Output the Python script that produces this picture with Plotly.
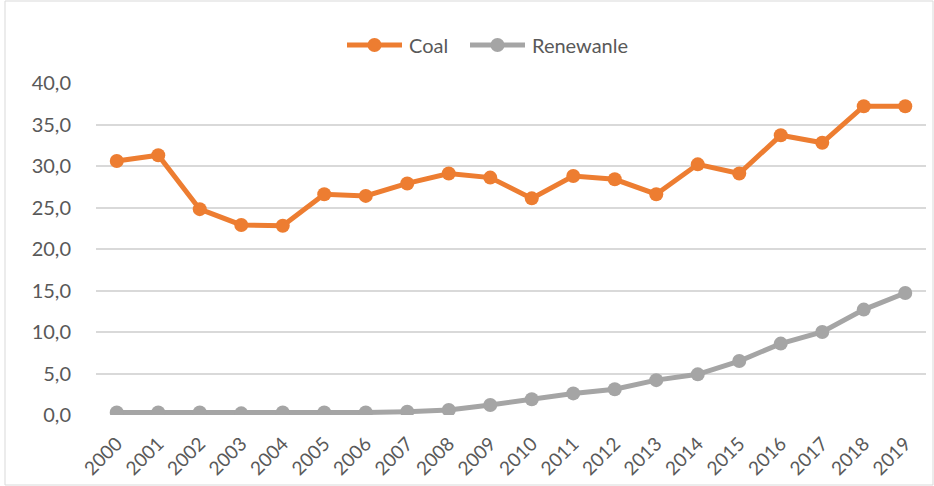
import plotly.graph_objects as go

years = [str(y) for y in range(2000, 2020)]
coal = [30.6, 31.3, 24.8, 22.9, 22.8, 26.6, 26.4, 27.9, 29.1, 28.6,
        26.1, 28.8, 28.4, 26.6, 30.2, 29.1, 33.7, 32.8, 37.2, 37.2]
renewable = [0.3, 0.3, 0.3, 0.2, 0.3, 0.3, 0.3, 0.4, 0.6, 1.2,
             1.9, 2.6, 3.1, 4.2, 4.9, 6.5, 8.6, 10.0, 12.7, 14.7]
y_ticks = [0, 5, 10, 15, 20, 25, 30, 35, 40]
series = [("Coal", coal, "#ED7D31"), ("Renewanle", renewable, "#A5A5A5")]

W, H = 934, 486
ml, mr, mt, mb = 96, 8, 83, 71
pw = W - ml - mr
ph = H - mt - mb
FONT = "Lato, 'Open Sans', sans-serif"
TXT = "#595959"


def px(x):
    return (x - ml) / pw


def py(y):
    return 1 + (mt - y) / ph


fig = go.Figure()
for name, vals, col in series:
    fig.add_trace(go.Scatter(x=years, y=vals, name=name, mode="lines+markers",
                             line=dict(color=col, width=5),
                             marker=dict(color=col, size=14), showlegend=False))

# chart border
fig.add_shape(type="rect", xref="paper", yref="paper",
              x0=px(5), x1=px(W - 1), y0=py(H - 1), y1=py(1),
              line=dict(color="#D9D9D9", width=1), layer="below")

# custom legend (Excel-style long line symbol)
leg_y = 45
leg_items = [(347, 402, 407), (470, 525, 530)]
for (name, vals, col), (lx0, lx1, tx) in zip(series, leg_items):
    fig.add_shape(type="line", xref="paper", yref="paper",
                  x0=px(lx0), x1=px(lx1), y0=py(leg_y), y1=py(leg_y),
                  line=dict(color=col, width=5))
    cx = (lx0 + lx1) / 2
    r = 7
    fig.add_shape(type="circle", xref="paper", yref="paper",
                  x0=px(cx - r), x1=px(cx + r), y0=py(leg_y + r), y1=py(leg_y - r),
                  line=dict(color=col, width=0), fillcolor=col)
    fig.add_annotation(text=name, xref="paper", yref="paper", x=px(tx), y=py(leg_y),
                       xanchor="left", yanchor="middle", showarrow=False,
                       font=dict(family=FONT, size=20, color=TXT))

fig.update_layout(
    width=W, height=H,
    margin=dict(l=ml, r=mr, t=mt, b=mb, autoexpand=False),
    paper_bgcolor="white", plot_bgcolor="white",
    separators=",.",
    font=dict(family=FONT, size=20, color=TXT),
    showlegend=False,
    xaxis=dict(type="category", range=[-0.5, 19.5], tickangle=-45,
               showgrid=False, showline=False, ticks="", zeroline=False,
               tickfont=dict(size=19), automargin=False,
               ticklabelstandoff=13),
    yaxis=dict(range=[0, 40], tickvals=y_ticks, tickformat=".1f",
               showgrid=True, gridcolor="#D9D9D9", gridwidth=1.5,
               zeroline=False, showline=False, ticks="", automargin=False,
               tickfont=dict(size=20), ticklabelstandoff=24),
)
fig.write_html("out.html", config={"displayModeBar": False},
               post_script="document.body.style.margin='0';document.body.style.overflow='hidden';")
